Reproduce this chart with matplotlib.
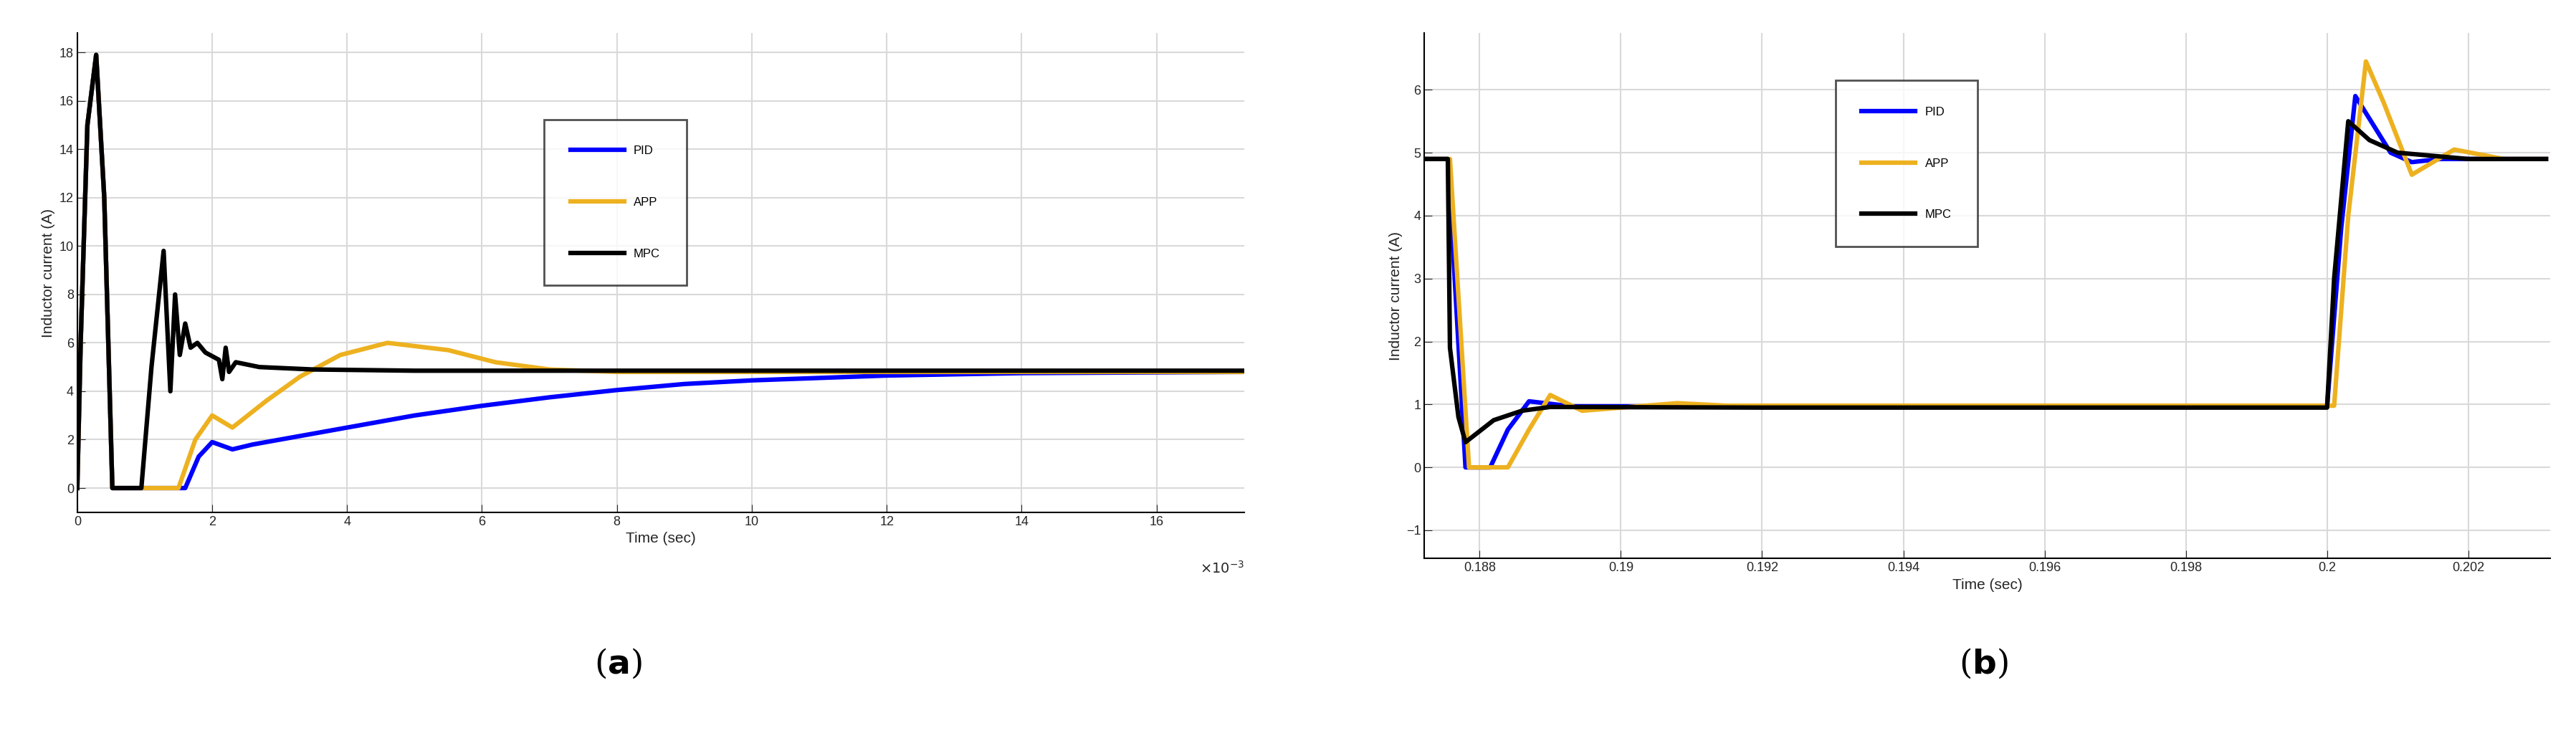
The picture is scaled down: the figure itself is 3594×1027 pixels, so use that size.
import matplotlib
matplotlib.use("Agg")
import matplotlib.pyplot as plt
from matplotlib.ticker import FuncFormatter

# ---- data (a) ----
t_a_mpc = [0, 0.05e-3, 0.15e-3, 0.28e-3, 0.4e-3, 0.52e-3, 0.95e-3, 1.1e-3, 1.28e-3, 1.38e-3, 1.45e-3, 1.52e-3, 1.6e-3, 1.68e-3, 1.78e-3, 1.9e-3, 2.1e-3, 2.15e-3, 2.2e-3, 2.25e-3, 2.35e-3, 2.7e-3, 3.5e-3, 5e-3, 17.3e-3]
i_a_mpc = [0, 6, 15, 17.9, 12, 0, 0, 5, 9.8, 4.0, 8.0, 5.5, 6.8, 5.8, 6.0, 5.6, 5.3, 4.5, 5.8, 4.8, 5.2, 5.0, 4.9, 4.85, 4.85]
t_a_app = [0, 0.05e-3, 0.15e-3, 0.28e-3, 0.4e-3, 0.52e-3, 1.5e-3, 1.75e-3, 2.0e-3, 2.3e-3, 2.8e-3, 3.3e-3, 3.9e-3, 4.6e-3, 5.5e-3, 6.2e-3, 7e-3, 8e-3, 17.3e-3]
i_a_app = [0, 6, 15, 17.9, 12, 0, 0, 2.0, 3.0, 2.5, 3.6, 4.6, 5.5, 6.0, 5.7, 5.2, 4.9, 4.8, 4.8]
t_a_pid = [0, 0.05e-3, 0.15e-3, 0.28e-3, 0.4e-3, 0.52e-3, 1.6e-3, 1.8e-3, 2.0e-3, 2.3e-3, 2.6e-3, 3.0e-3, 4e-3, 5e-3, 6e-3, 7e-3, 8e-3, 9e-3, 10e-3, 12e-3, 14e-3, 17.3e-3]
i_a_pid = [0, 6, 15, 17.9, 12, 0, 0, 1.3, 1.9, 1.6, 1.8, 2.0, 2.5, 3.0, 3.4, 3.75, 4.05, 4.3, 4.45, 4.65, 4.75, 4.8]

# ---- data (b) ----
t_b_pid = [0.1872, 0.18755, 0.1878, 0.18815, 0.1884, 0.1887, 0.1893, 0.1900, 0.2000, 0.2002, 0.2004, 0.2009, 0.2012, 0.2016, 0.2031]
i_b_pid = [4.9, 4.9, 0.0, 0.0, 0.6, 1.05, 0.97, 0.97, 0.97, 3.8, 5.9, 5.0, 4.85, 4.9, 4.9]
t_b_app = [0.1872, 0.18758, 0.18785, 0.1884, 0.1887, 0.1890, 0.18945, 0.1908, 0.1915, 0.2001, 0.2003, 0.20055, 0.2008, 0.2012, 0.2018, 0.2025, 0.2031]
i_b_app = [4.9, 4.9, 0.0, 0.0, 0.6, 1.15, 0.9, 1.02, 0.98, 0.98, 4.0, 6.45, 5.8, 4.65, 5.05, 4.9, 4.9]
t_b_mpc = [0.1872, 0.18755, 0.18758, 0.1877, 0.1878, 0.1882, 0.1886, 0.1890, 0.1920, 0.2000, 0.2001, 0.2003, 0.2006, 0.2010, 0.2020, 0.2031]
i_b_mpc = [4.9, 4.9, 1.9, 0.8, 0.4, 0.75, 0.9, 0.96, 0.95, 0.95, 3.0, 5.5, 5.2, 5.0, 4.9, 4.9]

labels = ["PID", "APP", "MPC"]
colors = ["#0000ff", "#edb120", "#000000"]

plt.rcParams['font.family'] = ['Liberation Sans', 'DejaVu Sans']
fig = plt.figure(figsize=(35.94, 10.27), dpi=100)
axa = fig.add_axes([0.030, 0.304, 0.453, 0.651])
axb = fig.add_axes([0.553, 0.241, 0.437, 0.714])

def style(ax):
    ax.grid(True, color="#d9d9d9", lw=1.5)
    for s in ["top", "right"]:
        ax.spines[s].set_visible(False)
    ax.spines["left"].set_linewidth(1.5)
    ax.spines["bottom"].set_linewidth(1.5)
    ax.tick_params(labelsize=13, direction="in", length=8, colors="#262626")
    ax.set_xlabel("Time (sec)", fontsize=15, color="#262626")
    ax.set_ylabel("Inductor current (A)", fontsize=15, color="#262626")

def leg(ax, anchor):
    lg = ax.legend(loc="upper left", bbox_to_anchor=anchor, fontsize=12, frameon=True,
                   fancybox=False, edgecolor="#262626", labelspacing=3.4, borderpad=2.2,
                   handlelength=4.5, borderaxespad=0)
    lg.get_frame().set_linewidth(2)
    return lg

lw = 4.5
axa.plot(t_a_pid, i_a_pid, color=colors[0], lw=lw, label=labels[0])
axa.plot(t_a_app, i_a_app, color=colors[1], lw=lw, label=labels[1])
axa.plot(t_a_mpc, i_a_mpc, color=colors[2], lw=lw, label=labels[2])
axa.set_xlim(0, 17.3e-3)
axa.set_ylim(-1, 18.8)
axa.set_yticks(range(0, 19, 2))
axa.set_xticks([i * 2e-3 for i in range(9)])
axa.xaxis.set_major_formatter(FuncFormatter(lambda v, p: "%d" % round(v * 1e3)))
axa.text(1.0, -0.10, r"$\times10^{-3}$", transform=axa.transAxes, ha="right", va="top",
         fontsize=14, color="#262626")
style(axa)
leg(axa, (0.40, 0.82))

axb.plot(t_b_pid, i_b_pid, color=colors[0], lw=lw, label=labels[0])
axb.plot(t_b_app, i_b_app, color=colors[1], lw=lw, label=labels[1])
axb.plot(t_b_mpc, i_b_mpc, color=colors[2], lw=lw, label=labels[2])
axb.set_xlim(0.18722, 0.20316)
axb.set_ylim(-1.45, 6.9)
axb.set_xticks([0.188 + 0.002 * i for i in range(8)])
axb.xaxis.set_major_formatter(FuncFormatter(lambda v, p: "%g" % round(v, 3)))
style(axb)
leg(axb, (0.365, 0.91))

fig.text(0.24, 0.085, r"($\mathbf{a}$)", ha="center", fontsize=34, family="DejaVu Serif")
fig.text(0.77, 0.085, r"($\mathbf{b}$)", ha="center", fontsize=34, family="DejaVu Serif")
fig.savefig("out.png", dpi=100)
